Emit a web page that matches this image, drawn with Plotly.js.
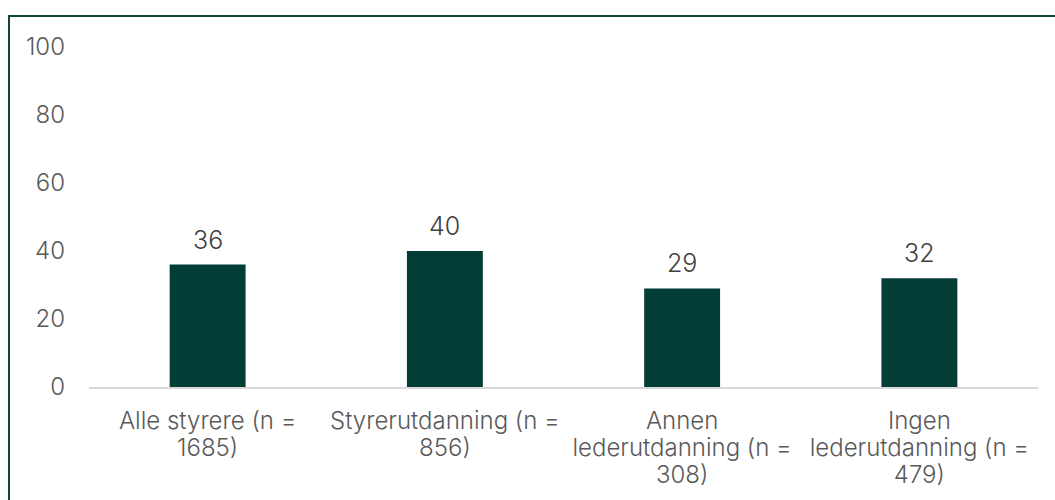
<!DOCTYPE html>
<html>
<head>
<meta charset="utf-8">
<script src="https://cdn.plot.ly/plotly-3.0.1.min.js"></script>
<style>
  html, body { margin: 0; padding: 0; background: #fff; }
  #wrap { position: relative; width: 1055px; height: 500px; overflow: hidden; }
  #chart { width: 1055px; height: 500px; }
  #frame { position: absolute; left: 8px; top: 15px; width: 1100px; height: 600px;
           border-top: 2px solid #0e4840; border-left: 2px solid #0e4840; pointer-events: none; }
</style>
</head>
<body>
<div id="wrap">
  <div id="chart"></div>
  <div id="frame"></div>
</div>
<script>
const categories = [
  "Alle styrere (n =<br>1685)",
  "Styrerutdanning (n =<br>856)",
  "Annen<br>lederutdanning (n =<br>308)",
  "Ingen<br>lederutdanning (n =<br>479)"
];
const values = [36, 40, 29, 32];
const yTicks = [0, 20, 40, 60, 80, 100];

const fontFam = "Inter, 'Noto Sans', sans-serif";

const trace = {
  type: 'bar',
  x: categories,
  y: values,
  marker: { color: '#023d36', line: { width: 0 } },
  width: 0.32,
  hoverinfo: 'skip'
};

const annotations = categories.map((c, i) => ({
  x: c, y: values[i], xref: 'x', yref: 'y',
  text: String(values[i]),
  showarrow: false, yanchor: 'bottom', yshift: 8,
  font: { family: fontFam, size: 25, color: '#404040', weight: 350 }
}));

const layout = {
  width: 1055, height: 500,
  margin: { l: 89, r: 17, t: 47, b: 113 },
  paper_bgcolor: 'rgba(0,0,0,0)',
  plot_bgcolor: 'rgba(0,0,0,0)',
  showlegend: false,
  font: { family: fontFam, size: 24, color: '#595959' },
  xaxis: {
    type: 'category',
    showline: true, linecolor: '#d9d9d9', linewidth: 2,
    showgrid: false, zeroline: false, ticks: '',
    ticklabelstandoff: 11,
    tickfont: { family: fontFam, size: 24, color: '#595959', weight: 350 },
    automargin: false
  },
  yaxis: {
    range: [0, 100],
    tickvals: yTicks,
    ticktext: yTicks.map(String),
    showline: false, showgrid: false, zeroline: false, ticks: '',
    ticklabelstandoff: 23,
    tickfont: { family: fontFam, size: 24, color: '#595959', weight: 350 },
    automargin: false
  },
  annotations: annotations
};

Plotly.newPlot('chart', [trace], layout, { displayModeBar: false, staticPlot: true }).then(gd => {
  // tighten line spacing of multi-line x tick labels to match reference
  gd.querySelectorAll('.xtick text tspan.line').forEach(t => {
    const dy = t.getAttribute('dy');
    if (dy && dy.endsWith('em')) {
      const v = parseFloat(dy);
      t.setAttribute('dy', (v * 0.865) + 'em');
    }
  });
});
</script>
</body>
</html>
